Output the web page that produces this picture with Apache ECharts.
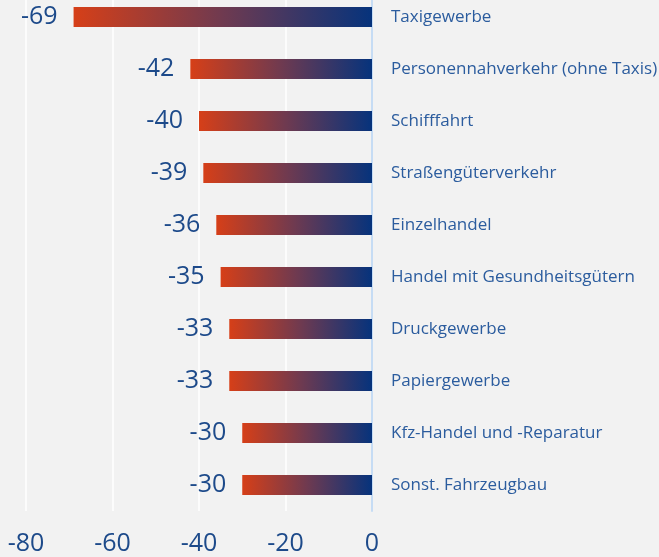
<!DOCTYPE html>
<html>
<head>
<meta charset="utf-8">
<script src="https://cdn.jsdelivr.net/npm/echarts@6/dist/echarts.min.js"></script>
<style>
  html, body { margin: 0; padding: 0; background: #f2f2f2; }
  #chart { width: 659px; height: 557px; }
</style>
</head>
<body>
<div id="chart"></div>
<script>
var branchen = ['Taxigewerbe', 'Personennahverkehr (ohne Taxis)', 'Schifffahrt', 'Straßengüterverkehr',
  'Einzelhandel', 'Handel mit Gesundheitsgütern', 'Druckgewerbe', 'Papiergewerbe',
  'Kfz-Handel und -Reparatur', 'Sonst. Fahrzeugbau'];
var werte = [-69, -42, -40, -39, -36, -35, -33, -33, -30, -30];

var myChart = echarts.init(document.getElementById('chart'));
var option = {
  backgroundColor: '#f2f2f2',
  textStyle: { fontFamily: 'Open Sans' },
  grid: { left: 26, right: 287, top: -9, bottom: 46, outerBoundsMode: 'none' },
  xAxis: {
    type: 'value',
    min: -80,
    max: 0,
    interval: 20,
    axisLine: { show: false },
    axisTick: { show: false },
    splitLine: { lineStyle: { color: '#ffffff', width: 1.5 } },
    axisLabel: { color: '#1d4a8a', fontSize: 25, margin: 20 }
  },
  yAxis: {
    type: 'category',
    data: branchen,
    inverse: true,
    position: 'right',
    axisLine: { onZero: false, lineStyle: { color: '#c6dcf4', width: 2 } },
    axisTick: { show: false },
    axisLabel: { color: '#2b5c9e', fontSize: 17, margin: 19, align: 'left' }
  },
  series: [
    {
      name: 'Veränderung',
      type: 'bar',
      data: werte,
      barWidth: 20,
      itemStyle: {
        color: new echarts.graphic.LinearGradient(0, 0, 1, 0, [
          { offset: 0, color: '#d63f18' },
          { offset: 0.5, color: '#6f3a50' },
          { offset: 1, color: '#06337c' }
        ])
      },
      label: {
        show: true,
        position: 'left',
        distance: 16,
        color: '#1d4a8a',
        fontSize: 25
      }
    }
  ]
};
myChart.setOption(option);
</script>
</body>
</html>
